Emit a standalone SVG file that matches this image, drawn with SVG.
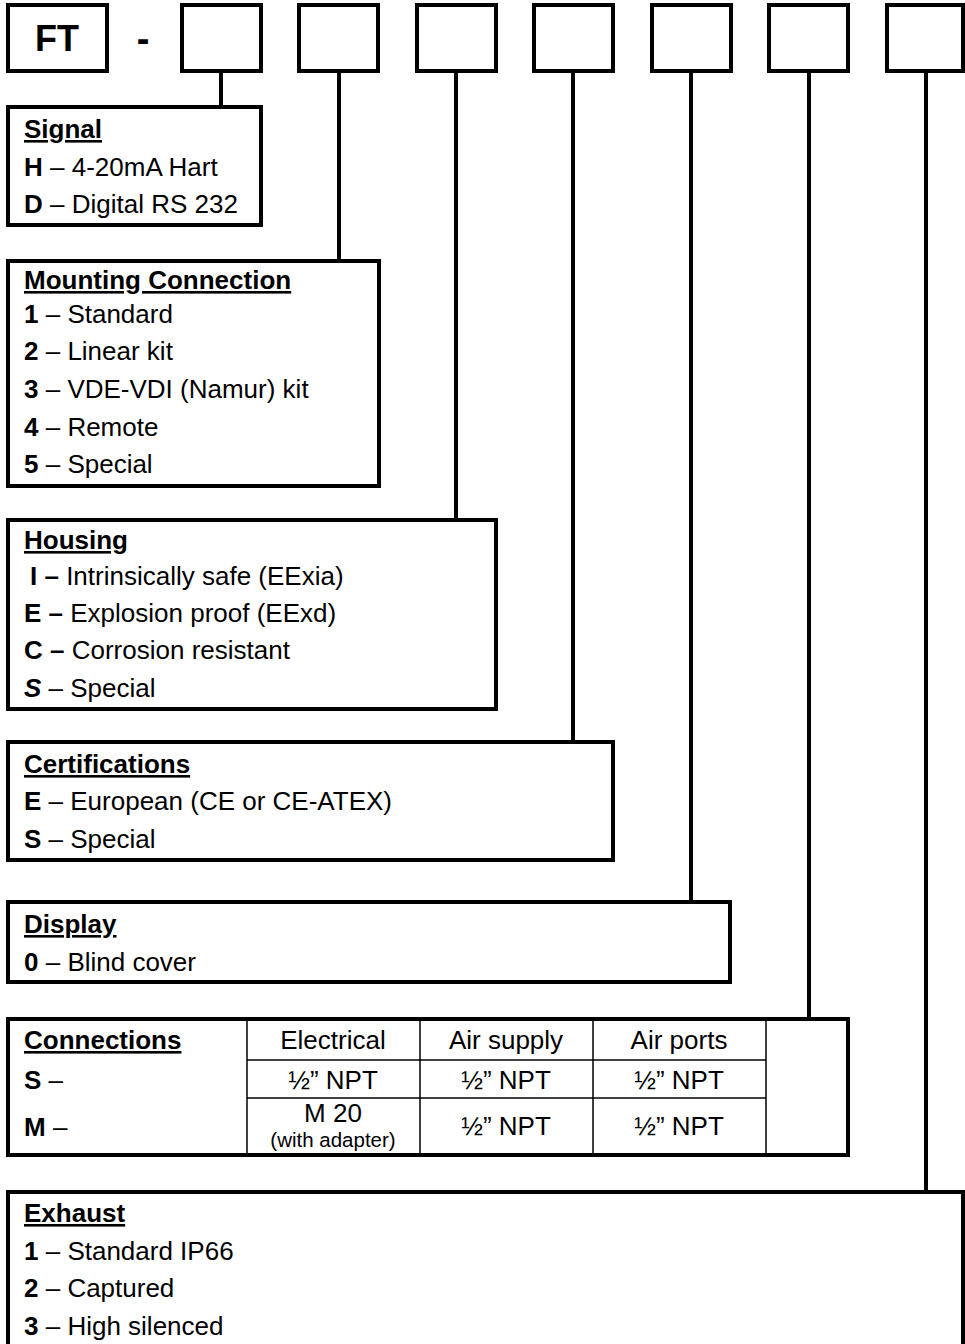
<svg xmlns="http://www.w3.org/2000/svg" width="965" height="1344" viewBox="0 0 965 1344">
<style>
text{font-family:"Liberation Sans",Arial,sans-serif;font-size:26px;fill:#000}
.b{font-weight:bold}
.u{text-decoration:underline}
.box{fill:#fff;stroke:#000;stroke-width:4}
.conn line{stroke:#000;stroke-width:4}
.grid line{stroke:#000;stroke-width:1.5}
.c{text-anchor:middle}
.sm{font-size:20.5px}
</style>
<rect width="965" height="1344" fill="#fff"/>
<g id="connectors" class="conn">
<line x1="221" y1="71" x2="221" y2="107"/>
<line x1="339" y1="71" x2="339" y2="261"/>
<line x1="456" y1="71" x2="456" y2="520"/>
<line x1="573" y1="71" x2="573" y2="742"/>
<line x1="691" y1="71" x2="691" y2="902"/>
<line x1="809" y1="71" x2="809" y2="1019"/>
<line x1="926" y1="71" x2="926" y2="1192"/>
</g>
<g id="code">
<rect class="box" x="8" y="5" width="99" height="66"/>
<text class="b c" x="57" y="51" style="font-size:36px">FT</text>
<text class="b c" x="143" y="52" style="font-size:38px">-</text>
<rect class="box" x="182" y="5" width="79" height="66"/>
<rect class="box" x="299" y="5" width="79" height="66"/>
<rect class="box" x="417" y="5" width="79" height="66"/>
<rect class="box" x="534" y="5" width="79" height="66"/>
<rect class="box" x="652" y="5" width="79" height="66"/>
<rect class="box" x="769" y="5" width="79" height="66"/>
<rect class="box" x="887" y="5" width="76" height="66"/>
</g>
<g id="signal">
<rect class="box" x="8" y="107" width="253" height="118"/>
<text class="b u" x="24" y="138">Signal</text>
<text x="24" y="176"><tspan class="b">H</tspan> – 4-20mA Hart</text>
<text x="24" y="213"><tspan class="b">D</tspan> – Digital RS 232</text>
</g>
<g id="mounting">
<rect class="box" x="8" y="261" width="371" height="225"/>
<text class="b u" x="24" y="289">Mounting Connection</text>
<text x="24" y="323"><tspan class="b">1</tspan> – Standard</text>
<text x="24" y="360"><tspan class="b">2</tspan> – Linear kit</text>
<text x="24" y="398"><tspan class="b">3</tspan> – VDE-VDI (Namur) kit</text>
<text x="24" y="436"><tspan class="b">4</tspan> – Remote</text>
<text x="24" y="473"><tspan class="b">5</tspan> – Special</text>
</g>
<g id="housing">
<rect class="box" x="8" y="520" width="488" height="189"/>
<text class="b u" x="24" y="549">Housing</text>
<text x="30" y="585"><tspan class="b">I –</tspan> Intrinsically safe (EExia)</text>
<text x="24" y="622"><tspan class="b">E –</tspan> Explosion proof (EExd)</text>
<text x="24" y="659"><tspan class="b">C –</tspan> Corrosion resistant</text>
<text x="24" y="697"><tspan class="b" font-style="italic">S</tspan> – Special</text>
</g>
<g id="certifications">
<rect class="box" x="8" y="742" width="605" height="118"/>
<text class="b u" x="24" y="773">Certifications</text>
<text x="24" y="810"><tspan class="b">E</tspan> – European (CE or CE-ATEX)</text>
<text x="24" y="848"><tspan class="b">S</tspan> – Special</text>
</g>
<g id="display">
<rect class="box" x="8" y="902" width="722" height="80"/>
<text class="b u" x="24" y="933">Display</text>
<text x="24" y="971"><tspan class="b">0</tspan> – Blind cover</text>
</g>
<g id="connections">
<rect class="box" x="8" y="1019" width="840" height="136"/>
<g class="grid">
<line x1="247" y1="1020" x2="247" y2="1154"/>
<line x1="420" y1="1020" x2="420" y2="1154"/>
<line x1="593" y1="1020" x2="593" y2="1154"/>
<line x1="766" y1="1020" x2="766" y2="1154"/>
<line x1="247" y1="1060" x2="766" y2="1060"/>
<line x1="247" y1="1098" x2="766" y2="1098"/>
</g>
<text class="b u" x="24" y="1049">Connections</text>
<text class="c" x="333" y="1049">Electrical</text>
<text class="c" x="506" y="1049">Air supply</text>
<text class="c" x="679" y="1049">Air ports</text>
<text x="24" y="1089"><tspan class="b">S</tspan> –</text>
<text class="c" x="333" y="1089">½” NPT</text>
<text class="c" x="506" y="1089">½” NPT</text>
<text class="c" x="679" y="1089">½” NPT</text>
<text x="24" y="1136"><tspan class="b">M</tspan> –</text>
<text class="c" x="333" y="1122">M 20</text>
<text class="c sm" x="333" y="1147">(with adapter)</text>
<text class="c" x="506" y="1135">½” NPT</text>
<text class="c" x="679" y="1135">½” NPT</text>
</g>
<g id="exhaust">
<path d="M8 1350 V1192 H963 V1350" fill="#fff" stroke="#000" stroke-width="4"/>
<text class="b u" x="24" y="1222">Exhaust</text>
<text x="24" y="1260"><tspan class="b">1</tspan> – Standard IP66</text>
<text x="24" y="1297"><tspan class="b">2</tspan> – Captured</text>
<text x="24" y="1335"><tspan class="b">3</tspan> – High silenced</text>
</g>
</svg>
